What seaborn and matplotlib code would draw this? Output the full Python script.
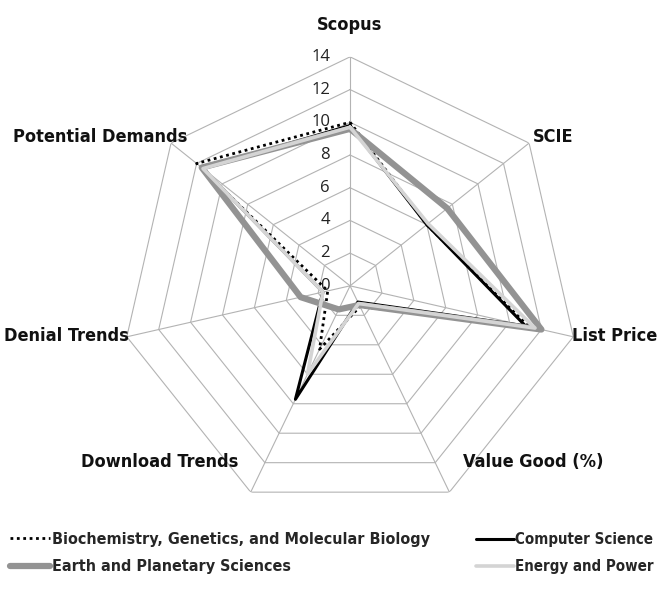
import numpy as np
import pandas as pd
import matplotlib
matplotlib.use("Agg")
import matplotlib.pyplot as plt
import seaborn as sns
from matplotlib import font_manager as fm

# data
categories = ["Scopus", "SCIE", "List Price", "Value Good (%)",
              "Download Trends", "Denial Trends", "Potential Demands"]
bio = [10.0, 6.0, 11.2, 1.4, 4.3, 1.4, 12.0]
cs = [9.8, 6.0, 11.0, 1.1, 7.7, 1.7, 11.5]
earth = [9.6, 7.6, 12.0, 1.3, 1.6, 3.1, 11.6]
energy = [9.7, 6.1, 11.6, 1.2, 6.0, 1.7, 11.5]
series_names = ["Biochemistry, Genetics, and Molecular Biology",
                "Computer Science", "Earth and Planetary Sciences",
                "Energy and Power"]
r_ticks = [0, 2, 4, 6, 8, 10, 12, 14]

sns.set_style("white")
names = {f.name for f in fm.fontManager.ttflist}
label_font = "Liberation Sans Narrow" if "Liberation Sans Narrow" in names else "DejaVu Sans"
label_stretch = "normal" if label_font == "Liberation Sans Narrow" else "condensed"
plt.rcParams["font.family"] = ["Open Sans", "DejaVu Sans"]

n = len(categories)
theta = np.linspace(0, 2 * np.pi, n, endpoint=False)
theta_closed = np.append(theta, theta[0] + 2 * np.pi)

fig = plt.figure(figsize=(6.58, 5.98), dpi=100)
ax = fig.add_axes([0.184, 0.139, 0.696, 0.766], projection="polar")
ax.set_theta_zero_location("N")
ax.set_theta_direction(-1)
ax.set_ylim(0, 14)
ax.set_xticks([])
ax.set_yticks([])
ax.grid(False)
ax.spines["polar"].set_visible(False)

# heptagon grid and spokes
grid_col = "#b3b3b3"
for r in r_ticks[1:]:
    ax.plot(theta_closed, [r] * (n + 1), color=grid_col, lw=0.8, zorder=1)
for t in theta:
    ax.plot([t, t], [0, 14], color=grid_col, lw=0.8, zorder=1)

# radial tick labels along Scopus axis
for r in r_ticks:
    ax.annotate(str(r), xy=(0, r), xytext=(-20, 0), textcoords="offset pixels",
                ha="right", va="center", fontsize=12, color="#222222", zorder=5)

styles = [
    dict(color="black", lw=2.0, linestyle=(0, (1, 1.3))),
    dict(color="black", lw=2.2, linestyle="-"),
    dict(color="#939393", lw=4.5, linestyle="-", solid_capstyle="round"),
    dict(color="#d4d4d4", lw=2.6, linestyle="-", solid_capstyle="round"),
]
all_vals = [bio, cs, earth, energy]
for name, vals, st in zip(series_names, all_vals, styles):
    df = pd.DataFrame({"theta": theta_closed, "value": vals + [vals[0]]})
    sns.lineplot(data=df, x="theta", y="value", ax=ax, sort=False,
                 label=name, zorder=3, **st)
ax.set_xlabel("")
ax.set_ylabel("")
ax.get_legend().remove()

# category labels anchored on the outer vertices
offsets = [(0, 32), (24, 6), (41, 1), (84, 30), (-91, 30), (-60, 1), (-71, 6)]
for t, lab, off in zip(theta, categories, offsets):
    ax.annotate(lab, xy=(t, 14), xytext=off, textcoords="offset pixels",
                ha="center", va="center", fontsize=13, fontweight="bold",
                family=label_font, fontstretch=label_stretch, color="#111111",
                annotation_clip=False)

# legend in two blocks so the right column lines up like the reference
handles, labels = ax.get_legend_handles_labels()
leg_kw = dict(loc="center left", frameon=False, borderpad=0, borderaxespad=0,
              handletextpad=0.12, labelspacing=0.8)
fig.legend([handles[0], handles[2]], [labels[0], labels[2]],
           bbox_to_anchor=(10 / 658, 1 - 553 / 598), handlelength=2.5,
           prop=dict(family=label_font, weight="bold", size=11.5,
                     stretch=label_stretch), **leg_kw)
fig.legend([handles[1], handles[3]], [labels[1], labels[3]],
           bbox_to_anchor=(476 / 658, 1 - 553 / 598), handlelength=2.5,
           prop=dict(family=label_font, weight="bold", size=10.8,
                     stretch=label_stretch), **leg_kw)

fig.savefig("out.png", dpi=100)
